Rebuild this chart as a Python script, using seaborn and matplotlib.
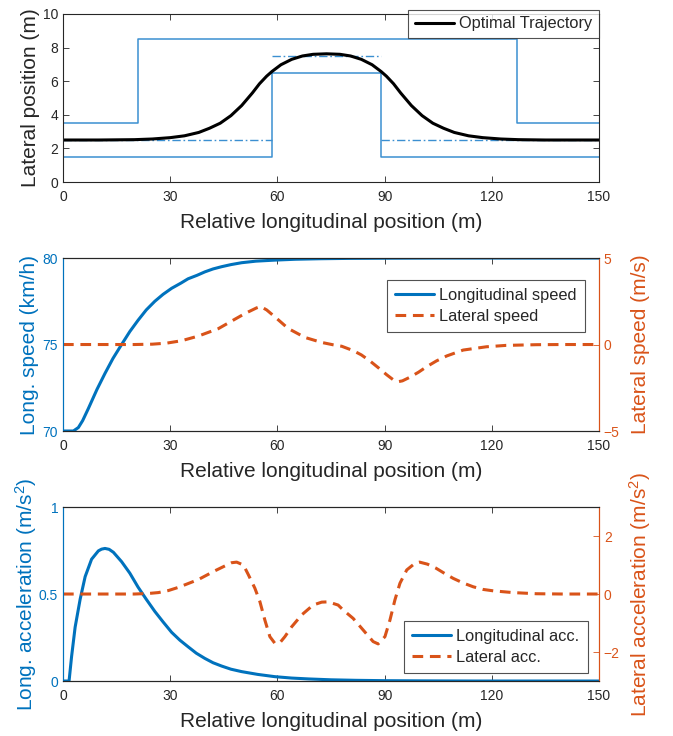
import matplotlib
matplotlib.use("Agg")
import matplotlib.pyplot as plt
import seaborn as sns

# ---- data ----
# path limits (lower / upper road boundary) and lane centre lines
low_bound_x = [0, 58.5, 58.5, 89, 89, 150]
low_bound_y = [1.5, 1.5, 6.5, 6.5, 1.5, 1.5]
up_bound_x = [0, 21, 21, 127, 127, 150]
up_bound_y = [3.5, 3.5, 8.5, 8.5, 3.5, 3.5]
centre_segments = [([0, 58.5], [2.5, 2.5]), ([58.5, 89], [7.5, 7.5]), ([89, 150], [2.5, 2.5])]

traj_x = [0, 10, 20, 25, 30, 34, 38, 41, 44, 47, 50, 53, 55, 57, 58.5, 61, 64, 67, 70,
          73.75, 77.5, 80.5, 83.5, 86.5, 89, 90.5, 92.5, 94.5, 97.5, 100.5, 103.5, 106.5,
          109.5, 113.5, 117.5, 122.5, 127.5, 135, 150]
traj_y = [2.5, 2.5, 2.52, 2.56, 2.64, 2.75, 2.95, 3.2, 3.5, 3.95, 4.55, 5.3, 5.85, 6.3, 6.58,
          6.98, 7.3, 7.5, 7.6, 7.63, 7.6, 7.5, 7.3, 6.98, 6.58, 6.3, 5.85, 5.3, 4.55, 3.95,
          3.5, 3.2, 2.95, 2.75, 2.64, 2.56, 2.52, 2.5, 2.5]

speed_x = [0, 2.9, 4.3, 5.5, 7.1, 9.5, 11.75, 14, 16.4, 18.7, 21, 23.3, 25.7, 28, 30.4, 33,
           35, 37.5, 39.7, 42, 44.4, 47, 50, 54, 59.3, 65, 72, 80, 90, 105, 120, 150]
long_speed = [70, 70, 70.2, 70.6, 71.3, 72.4, 73.33, 74.2, 75.0, 75.75, 76.4, 77.0, 77.5,
              77.9, 78.25, 78.55, 78.8, 79.0, 79.2, 79.37, 79.5, 79.62, 79.73, 79.82, 79.88,
              79.93, 79.96, 79.98, 79.99, 80, 80, 80]

lat_speed_x = [0, 10, 20, 25, 29, 33.2, 37.9, 43.5, 48, 51, 54.2, 55.3, 57, 59.3, 63, 67.7,
               72.4, 75.7, 78, 81.2, 83.5, 85.9, 88.3, 90.6, 92.5, 93.8, 95, 97, 99.5, 101.8,
               104.5, 107.4, 112, 118.5, 124, 132.5, 140, 150]
lat_speed = [0, 0, 0, 0.02, 0.08, 0.22, 0.49, 0.92, 1.45, 1.8, 2.12, 2.2, 2.0, 1.6, 0.93,
             0.41, 0.12, -0.02, -0.1, -0.35, -0.6, -0.95, -1.35, -1.75, -2.05, -2.15, -2.1,
             -1.9, -1.6, -1.28, -0.95, -0.66, -0.32, -0.13, -0.05, -0.01, 0, 0]

acc_x = [0, 1.7, 2.4, 3.4, 4.8, 6.2, 8, 9.9, 10.8, 11.75, 12.9, 14.1, 16.4, 18.7, 21, 23.3,
         25.7, 28, 30.4, 32.7, 35, 37.3, 39.7, 42, 44.4, 47, 50, 54.5, 59.3, 64, 68.7, 75,
         82, 90, 100, 115, 150]
long_acc = [0, 0, 0.14, 0.31, 0.47, 0.6, 0.70, 0.748, 0.758, 0.762, 0.757, 0.74, 0.686,
            0.62, 0.54, 0.47, 0.40, 0.34, 0.28, 0.235, 0.197, 0.16, 0.13, 0.105, 0.086,
            0.068, 0.054, 0.038, 0.025, 0.017, 0.012, 0.007, 0.004, 0.002, 0.001, 0, 0]

lat_acc_x = [0, 10, 20, 24, 26.7, 29.5, 32.3, 35, 37.9, 40.2, 42.5, 45, 47.2, 48.6, 50.5,
             51.9, 53.7, 55.1, 56.5, 57.9, 59.3, 60.7, 62.1, 64, 66.8, 70, 72.4, 74.2, 77,
             78.4, 81.2, 84, 86.8, 88.2, 90.1, 91.5, 92.9, 94.3, 96.2, 98.5, 99.8, 102,
             104.4, 106.8, 109.2, 112, 114.8, 117.5, 120.4, 125.9, 132.5, 140, 150]
lat_acc = [0, 0, 0, 0.02, 0.05, 0.12, 0.23, 0.36, 0.5, 0.65, 0.8, 0.95, 1.08, 1.1, 1.0,
           0.66, 0.2, -0.26, -0.9, -1.47, -1.7, -1.68, -1.47, -1.13, -0.72, -0.38, -0.28,
           -0.27, -0.38, -0.55, -0.84, -1.24, -1.64, -1.72, -1.47, -0.9, -0.2, 0.37, 0.83,
           1.06, 1.1, 1.03, 0.89, 0.71, 0.54, 0.38, 0.25, 0.16, 0.11, 0.05, 0.01, 0, 0]

x_ticks = [0, 30, 60, 90, 120, 150]
XLABEL = "Relative longitudinal position (m)"

BLUE = "#0072BD"
ORANGE = "#D95319"
EDGE = "#262626"

sns.set_theme(style="white")
plt.rcParams["font.family"] = ["Liberation Sans", "DejaVu Sans"]
plt.rcParams.update({
    "mathtext.fontset": "custom",
    "mathtext.rm": "Liberation Sans",
    "mathtext.it": "Liberation Sans:italic",
    "xtick.direction": "in",
    "ytick.direction": "in",
    "axes.linewidth": 0.8,
    "legend.fancybox": False,
})

fig = plt.figure(figsize=(6.73, 7.36), dpi=100)
L, W = 0.0936, 0.7964
ax1 = fig.add_axes([L, 0.7527, W, 0.2283])
ax2 = fig.add_axes([L, 0.4144, W, 0.2350])
ax3 = fig.add_axes([L, 0.0747, W, 0.2364])

LEG_KW = dict(fontsize=11.8, frameon=True, edgecolor=EDGE, handletextpad=0.3,
              borderaxespad=0, handlelength=2.4)


def style_x(ax):
    ax.set_xlim(0, 150)
    ax.set_xticks(x_ticks)
    ax.set_xlabel(XLABEL, fontsize=15, color=EDGE, labelpad=7)
    ax.tick_params(axis="x", top=True, bottom=True, labelsize=10, colors=EDGE,
                   length=4, width=0.6, pad=5.5)
    for s in ax.spines.values():
        s.set_color(EDGE)
        s.set_linewidth(0.8)


# ---- top: lateral position ----
bcol = "#3b8fd1"
ax1.plot(low_bound_x, low_bound_y, color=bcol, lw=1.1)
ax1.plot(up_bound_x, up_bound_y, color=bcol, lw=1.1)
for sx, sy in centre_segments:
    ax1.plot(sx, sy, color=bcol, lw=1.0, ls=(0, (6, 2, 1.2, 2)))
sns.lineplot(x=traj_x, y=traj_y, ax=ax1, color="black", lw=2.2, sort=False,
             estimator=None, label="Optimal Trajectory")
style_x(ax1)
ax1.set_ylim(0, 10)
ax1.set_yticks([0, 2, 4, 6, 8, 10])
ax1.set_ylabel("Lateral position (m)", fontsize=15, color=EDGE, labelpad=2)
ax1.tick_params(axis="y", left=True, right=True, labelsize=10, colors=EDGE,
                length=4, width=0.6)
leg = ax1.legend(loc="upper right", bbox_to_anchor=(1.0, 1.025), borderpad=0.4, **LEG_KW)
leg.get_frame().set_linewidth(0.8)


def style_twin(ax, axr, ylab_l, ylab_r, pad_l, pad_r):
    ax.set_ylabel(ylab_l, fontsize=15, color=BLUE, labelpad=pad_l)
    axr.set_ylabel(ylab_r, fontsize=15, color=ORANGE, labelpad=pad_r)
    ax.tick_params(axis="y", left=True, labelsize=10, colors=BLUE, length=4, width=0.6)
    axr.tick_params(axis="y", right=True, labelsize=10, colors=ORANGE, length=4, width=0.6)
    ax.spines["left"].set_color(BLUE)
    axr.spines["left"].set_color(BLUE)
    axr.spines["right"].set_color(ORANGE)
    ax.spines["right"].set_color(ORANGE)


# ---- middle: speeds ----
ax2r = ax2.twinx()
sns.lineplot(x=speed_x, y=long_speed, ax=ax2, color=BLUE, lw=2.2, sort=False,
             estimator=None, legend=False)
sns.lineplot(x=lat_speed_x, y=lat_speed, ax=ax2r, color=ORANGE, lw=2.2, sort=False,
             estimator=None, legend=False)
ax2r.lines[0].set_linestyle((0, (3.5, 2.2)))
style_x(ax2)
ax2.set_ylim(70, 80)
ax2.set_yticks([70, 75, 80])
ax2r.set_ylim(-5, 5)
ax2r.set_yticks([-5, 0, 5])
style_twin(ax2, ax2r, "Long. speed (km/h)", "Lateral speed (m/s)", 2.5, 8)
h = [ax2.lines[0], ax2r.lines[0]]
leg2 = ax2r.legend(h, ["Longitudinal speed", "Lateral speed"], loc="upper right",
                   bbox_to_anchor=(0.974, 0.873), borderpad=0.5, labelspacing=0.35,
                   **LEG_KW)
leg2.get_frame().set_linewidth(0.8)

# ---- bottom: accelerations ----
ax3r = ax3.twinx()
sns.lineplot(x=acc_x, y=long_acc, ax=ax3, color=BLUE, lw=2.2, sort=False,
             estimator=None, legend=False)
sns.lineplot(x=lat_acc_x, y=lat_acc, ax=ax3r, color=ORANGE, lw=2.2, sort=False,
             estimator=None, legend=False)
ax3r.lines[0].set_linestyle((0, (3.5, 2.2)))
style_x(ax3)
ax3.set_ylim(0, 1)
ax3.set_yticks([0, 0.5, 1])
ax3.set_yticklabels(["0", "0.5", "1"])
ax3r.set_ylim(-3, 3)
ax3r.set_yticks([-2, 0, 2])
style_twin(ax3, ax3r, r"Long. acceleration (m/s$^2$)", r"Lateral acceleration (m/s$^2$)",
           0, 5)
h = [ax3.lines[0], ax3r.lines[0]]
leg3 = ax3r.legend(h, ["Longitudinal acc.", "Lateral acc."], loc="lower right",
                   bbox_to_anchor=(0.979, 0.046), borderpad=0.5, labelspacing=0.35,
                   **LEG_KW)
leg3.get_frame().set_linewidth(0.8)

for a in (ax2r, ax3r):
    a.tick_params(axis="x", top=True)
    for s in ("top", "bottom"):
        a.spines[s].set_color(EDGE)

fig.savefig("out.png", dpi=100)
